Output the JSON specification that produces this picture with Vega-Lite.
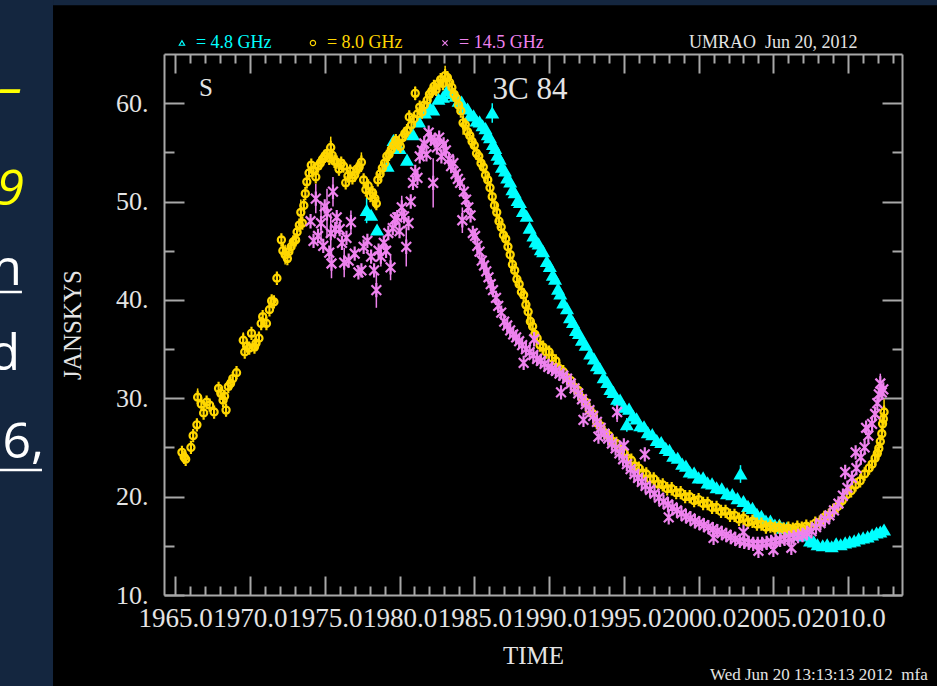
{
  "$schema": "https://vega.github.io/schema/vega-lite/v6.json",
  "width": 738,
  "height": 541,
  "autosize": {"type": "none"},
  "padding": {"left": 164, "top": 54, "right": 35, "bottom": 91},
  "background": "#000000",
  "config": {
    "view": {"stroke": null},
    "font": "Liberation Serif",
    "axis": {
      "grid": false,
      "domainColor": "#a8a8a8",
      "domainWidth": 2,
      "tickColor": "#a8a8a8",
      "tickWidth": 2,
      "labelColor": "#e4e4e4",
      "labelFont": "Liberation Serif",
      "labelFontSize": 26,
      "titleColor": "#e4e4e4",
      "titleFont": "Liberation Serif",
      "titleFontSize": 25,
      "titleFontWeight": "normal",
      "labelOverlap": false,
      "labelBound": false,
      "labelFlush": false
    }
  },
  "resolve": {"axis": {"x": "independent", "y": "independent"}, "scale": {"shape": "independent"}},
  "datasets": {
    "bg": [
      {"year": 1940, "year2": 1956.83, "jy": -10, "jy2": 80},
      {"year": 1956.83, "year2": 2030, "jy": 69.96, "jy2": 80}
    ],
    "fragY": [
      {"year": 1954.75, "jy": 59.92, "txt": "–"},
      {"year": 1954.89, "jy": 49.66, "txt": "9"}
    ],
    "fragW": [
      {"year": 1954.75, "jy": 41.52, "txt": "n"},
      {"year": 1954.62, "jy": 32.88, "txt": "d"},
      {"year": 1956.23, "jy": 23.93, "txt": "6,"}
    ],
    "uline": [
      {"year": 1952, "year2": 1954.75, "jy": 40.81},
      {"year": 1952, "year2": 1956.09, "jy": 22.71}
    ],
    "hdr": [
      {"band": "4.8", "year": 1965.45, "jy": 66.12, "lab": "= 4.8 GHz"},
      {"band": "8.0", "year": 1974.21, "jy": 66.12, "lab": "= 8.0 GHz"},
      {"band": "14.5", "year": 1983.04, "jy": 66.12, "lab": "= 14.5 GHz"}
    ],
    "umrao": [{"year": 1999.36, "jy": 66.12, "txt": "UMRAO\u00a0 Jun 20, 2012"}],
    "srcS": [{"year": 1967.06, "jy": 61.55, "txt": "S"}],
    "srcName": [{"year": 1988.73, "jy": 61.34, "txt": "3C 84"}],
    "stamp": [{"year": 2000.76, "jy": 1.87, "txt": "Wed Jun 20 13:13:13 2012\u00a0 mfa"}],
    "obs": [
      {"band":"4.8","year":1977.8,"jy":49.1,"e":1.3},
      {"band":"4.8","year":1978.1,"jy":48.6},
      {"band":"4.8","year":1978.5,"jy":47.1},
      {"band":"4.8","year":1979.2,"jy":53.6},
      {"band":"4.8","year":1979.6,"jy":56.2},
      {"band":"4.8","year":1980.0,"jy":55.4},
      {"band":"4.8","year":1980.5,"jy":54.2},
      {"band":"4.8","year":1980.9,"jy":56.8},
      {"band":"4.8","year":1981.3,"jy":58.1},
      {"band":"4.8","year":1981.7,"jy":59.0},
      {"band":"4.8","year":1982.0,"jy":59.6},
      {"band":"4.8","year":1982.25,"jy":59.3},
      {"band":"4.8","year":1982.6,"jy":60.4},
      {"band":"4.8","year":1982.9,"jy":60.6},
      {"band":"4.8","year":1983.2,"jy":61.3},
      {"band":"4.8","year":1983.5,"jy":61.0},
      {"band":"4.8","year":1983.75,"jy":60.7},
      {"band":"4.8","year":1983.95,"jy":60.2},
      {"band":"4.8","year":1984.15,"jy":60.1},
      {"band":"4.8","year":1984.35,"jy":59.5},
      {"band":"4.8","year":1984.55,"jy":59.4},
      {"band":"4.8","year":1984.75,"jy":58.8},
      {"band":"4.8","year":1984.95,"jy":58.7},
      {"band":"4.8","year":1985.15,"jy":58.2},
      {"band":"4.8","year":1985.35,"jy":58.1},
      {"band":"4.8","year":1985.55,"jy":57.7},
      {"band":"4.8","year":1985.75,"jy":57.4},
      {"band":"4.8","year":1985.9,"jy":56.8},
      {"band":"4.8","year":1986.05,"jy":56.5},
      {"band":"4.8","year":1986.2,"jy":59.0,"e":1.0},
      {"band":"4.8","year":1986.25,"jy":55.8},
      {"band":"4.8","year":1986.4,"jy":55.4},
      {"band":"4.8","year":1986.55,"jy":54.7},
      {"band":"4.8","year":1986.7,"jy":54.3},
      {"band":"4.8","year":1986.85,"jy":53.5},
      {"band":"4.8","year":1987.05,"jy":53.1},
      {"band":"4.8","year":1987.2,"jy":52.4},
      {"band":"4.8","year":1987.4,"jy":52.0},
      {"band":"4.8","year":1987.55,"jy":51.2},
      {"band":"4.8","year":1987.7,"jy":50.9},
      {"band":"4.8","year":1987.9,"jy":50.1},
      {"band":"4.8","year":1988.05,"jy":49.9},
      {"band":"4.8","year":1988.25,"jy":49.0},
      {"band":"4.8","year":1988.5,"jy":48.5},
      {"band":"4.8","year":1988.7,"jy":47.3},
      {"band":"4.8","year":1988.95,"jy":46.5},
      {"band":"4.8","year":1989.1,"jy":45.9},
      {"band":"4.8","year":1989.3,"jy":45.7},
      {"band":"4.8","year":1989.45,"jy":45.1},
      {"band":"4.8","year":1989.6,"jy":44.9},
      {"band":"4.8","year":1989.85,"jy":43.9},
      {"band":"4.8","year":1990.05,"jy":43.4},
      {"band":"4.8","year":1990.25,"jy":42.5},
      {"band":"4.8","year":1990.4,"jy":42.1},
      {"band":"4.8","year":1990.6,"jy":41.1},
      {"band":"4.8","year":1990.75,"jy":40.6},
      {"band":"4.8","year":1990.95,"jy":39.7},
      {"band":"4.8","year":1991.2,"jy":39.1},
      {"band":"4.8","year":1991.4,"jy":38.2},
      {"band":"4.8","year":1991.6,"jy":37.7},
      {"band":"4.8","year":1991.8,"jy":36.9},
      {"band":"4.8","year":1992.0,"jy":36.6},
      {"band":"4.8","year":1992.2,"jy":35.9},
      {"band":"4.8","year":1992.45,"jy":35.4},
      {"band":"4.8","year":1992.75,"jy":34.5},
      {"band":"4.8","year":1993.0,"jy":34.0},
      {"band":"4.8","year":1993.2,"jy":33.3},
      {"band":"4.8","year":1993.4,"jy":33.0},
      {"band":"4.8","year":1993.65,"jy":32.1},
      {"band":"4.8","year":1993.9,"jy":31.6},
      {"band":"4.8","year":1994.1,"jy":30.9},
      {"band":"4.8","year":1994.3,"jy":30.6},
      {"band":"4.8","year":1994.55,"jy":29.9},
      {"band":"4.8","year":1994.75,"jy":29.8},
      {"band":"4.8","year":1995.0,"jy":29.1},
      {"band":"4.8","year":1995.2,"jy":27.3,"e":0.7},
      {"band":"4.8","year":1995.35,"jy":28.9},
      {"band":"4.8","year":1995.6,"jy":28.2},
      {"band":"4.8","year":1995.85,"jy":27.9},
      {"band":"4.8","year":1996.1,"jy":27.2},
      {"band":"4.8","year":1996.35,"jy":27.1},
      {"band":"4.8","year":1996.6,"jy":26.5},
      {"band":"4.8","year":1996.9,"jy":26.3},
      {"band":"4.8","year":1997.2,"jy":25.7},
      {"band":"4.8","year":1997.5,"jy":25.5},
      {"band":"4.8","year":1997.8,"jy":24.9},
      {"band":"4.8","year":1998.05,"jy":24.7},
      {"band":"4.8","year":1998.3,"jy":24.1},
      {"band":"4.8","year":1998.6,"jy":23.9},
      {"band":"4.8","year":1998.9,"jy":23.3},
      {"band":"4.8","year":1999.15,"jy":23.1},
      {"band":"4.8","year":1999.4,"jy":22.5},
      {"band":"4.8","year":1999.7,"jy":22.4},
      {"band":"4.8","year":2000.0,"jy":21.9},
      {"band":"4.8","year":2000.3,"jy":21.9},
      {"band":"4.8","year":2000.6,"jy":21.4},
      {"band":"4.8","year":2000.9,"jy":21.3},
      {"band":"4.8","year":2001.2,"jy":20.9},
      {"band":"4.8","year":2001.55,"jy":20.8},
      {"band":"4.8","year":2001.9,"jy":20.3},
      {"band":"4.8","year":2002.25,"jy":20.2},
      {"band":"4.8","year":2002.6,"jy":19.8},
      {"band":"4.8","year":2002.8,"jy":22.3,"e":0.9},
      {"band":"4.8","year":2003.0,"jy":19.5},
      {"band":"4.8","year":2003.3,"jy":19.0},
      {"band":"4.8","year":2003.6,"jy":18.8},
      {"band":"4.8","year":2003.9,"jy":18.2},
      {"band":"4.8","year":2004.2,"jy":18.0},
      {"band":"4.8","year":2004.5,"jy":17.5},
      {"band":"4.8","year":2004.8,"jy":17.5},
      {"band":"4.8","year":2005.1,"jy":17.1},
      {"band":"4.8","year":2005.4,"jy":17.1},
      {"band":"4.8","year":2005.65,"jy":16.8},
      {"band":"4.8","year":2005.9,"jy":16.8},
      {"band":"4.8","year":2006.2,"jy":16.5},
      {"band":"4.8","year":2006.5,"jy":16.5},
      {"band":"4.8","year":2006.8,"jy":16.1},
      {"band":"4.8","year":2007.1,"jy":16.0},
      {"band":"4.8","year":2007.45,"jy":15.5},
      {"band":"4.8","year":2007.7,"jy":15.4},
      {"band":"4.8","year":2007.95,"jy":15.1},
      {"band":"4.8","year":2008.3,"jy":15.0},
      {"band":"4.8","year":2008.6,"jy":15.1},
      {"band":"4.8","year":2008.9,"jy":14.9},
      {"band":"4.8","year":2009.2,"jy":15.2},
      {"band":"4.8","year":2009.5,"jy":15.1},
      {"band":"4.8","year":2009.8,"jy":15.3},
      {"band":"4.8","year":2010.1,"jy":15.4},
      {"band":"4.8","year":2010.4,"jy":15.5},
      {"band":"4.8","year":2010.7,"jy":15.7},
      {"band":"4.8","year":2011.0,"jy":15.8},
      {"band":"4.8","year":2011.3,"jy":15.9},
      {"band":"4.8","year":2011.6,"jy":16.1},
      {"band":"4.8","year":2011.9,"jy":16.3},
      {"band":"4.8","year":2012.15,"jy":16.4},
      {"band":"4.8","year":2012.4,"jy":16.6},
      {"band":"8.0","year":1965.45,"jy":24.5},
      {"band":"8.0","year":1965.6,"jy":24.0},
      {"band":"8.0","year":1965.7,"jy":23.8},
      {"band":"8.0","year":1966.05,"jy":25.0},
      {"band":"8.0","year":1966.2,"jy":26.2},
      {"band":"8.0","year":1966.45,"jy":27.3},
      {"band":"8.0","year":1966.5,"jy":30.1,"e":0.9},
      {"band":"8.0","year":1966.75,"jy":29.4},
      {"band":"8.0","year":1966.9,"jy":28.5},
      {"band":"8.0","year":1967.1,"jy":29.6},
      {"band":"8.0","year":1967.3,"jy":29.3},
      {"band":"8.0","year":1967.6,"jy":28.6},
      {"band":"8.0","year":1967.9,"jy":31.0},
      {"band":"8.0","year":1968.05,"jy":30.5},
      {"band":"8.0","year":1968.2,"jy":29.8},
      {"band":"8.0","year":1968.3,"jy":30.2},
      {"band":"8.0","year":1968.4,"jy":28.8},
      {"band":"8.0","year":1968.55,"jy":31.2},
      {"band":"8.0","year":1968.7,"jy":31.5},
      {"band":"8.0","year":1968.85,"jy":32.0},
      {"band":"8.0","year":1969.1,"jy":32.6},
      {"band":"8.0","year":1969.55,"jy":35.9,"e":0.8},
      {"band":"8.0","year":1969.65,"jy":34.7},
      {"band":"8.0","year":1969.8,"jy":35.3},
      {"band":"8.0","year":1969.95,"jy":35.1},
      {"band":"8.0","year":1970.1,"jy":36.6},
      {"band":"8.0","year":1970.3,"jy":35.2},
      {"band":"8.0","year":1970.4,"jy":35.6},
      {"band":"8.0","year":1970.6,"jy":36.1},
      {"band":"8.0","year":1970.75,"jy":37.6},
      {"band":"8.0","year":1970.85,"jy":38.3},
      {"band":"8.0","year":1971.1,"jy":37.6},
      {"band":"8.0","year":1971.3,"jy":39.0},
      {"band":"8.0","year":1971.45,"jy":39.9},
      {"band":"8.0","year":1971.6,"jy":39.8},
      {"band":"8.0","year":1971.8,"jy":42.2},
      {"band":"8.0","year":1972.1,"jy":46.1},
      {"band":"8.0","year":1972.2,"jy":45.0},
      {"band":"8.0","year":1972.35,"jy":44.6,"e":1.0},
      {"band":"8.0","year":1972.5,"jy":44.2},
      {"band":"8.0","year":1972.6,"jy":44.9},
      {"band":"8.0","year":1972.75,"jy":45.4},
      {"band":"8.0","year":1972.9,"jy":45.9},
      {"band":"8.0","year":1973.05,"jy":46.1},
      {"band":"8.0","year":1973.15,"jy":46.9},
      {"band":"8.0","year":1973.3,"jy":47.6},
      {"band":"8.0","year":1973.4,"jy":48.9,"e":1.3},
      {"band":"8.0","year":1973.5,"jy":47.8},
      {"band":"8.0","year":1973.6,"jy":49.6},
      {"band":"8.0","year":1973.7,"jy":50.8},
      {"band":"8.0","year":1973.8,"jy":52.0},
      {"band":"8.0","year":1973.95,"jy":52.9},
      {"band":"8.0","year":1974.1,"jy":53.7},
      {"band":"8.0","year":1974.25,"jy":53.2},
      {"band":"8.0","year":1974.4,"jy":52.5},
      {"band":"8.0","year":1974.55,"jy":53.6},
      {"band":"8.0","year":1974.7,"jy":53.9},
      {"band":"8.0","year":1974.85,"jy":54.3},
      {"band":"8.0","year":1975.0,"jy":54.6},
      {"band":"8.0","year":1975.15,"jy":54.9},
      {"band":"8.0","year":1975.3,"jy":54.4},
      {"band":"8.0","year":1975.4,"jy":55.5,"e":1.1},
      {"band":"8.0","year":1975.5,"jy":54.7},
      {"band":"8.0","year":1975.65,"jy":54.1},
      {"band":"8.0","year":1975.8,"jy":54.0},
      {"band":"8.0","year":1975.95,"jy":53.3},
      {"band":"8.0","year":1976.1,"jy":53.9},
      {"band":"8.0","year":1976.25,"jy":53.6},
      {"band":"8.0","year":1976.4,"jy":51.9},
      {"band":"8.0","year":1976.55,"jy":52.6},
      {"band":"8.0","year":1976.7,"jy":53.1},
      {"band":"8.0","year":1976.85,"jy":52.4},
      {"band":"8.0","year":1977.0,"jy":52.7},
      {"band":"8.0","year":1977.15,"jy":53.3},
      {"band":"8.0","year":1977.3,"jy":53.5},
      {"band":"8.0","year":1977.45,"jy":54.0,"e":1.0},
      {"band":"8.0","year":1977.6,"jy":52.2},
      {"band":"8.0","year":1977.75,"jy":51.2},
      {"band":"8.0","year":1977.9,"jy":51.6},
      {"band":"8.0","year":1978.05,"jy":50.6},
      {"band":"8.0","year":1978.2,"jy":50.9},
      {"band":"8.0","year":1978.35,"jy":50.3,"e":1.0},
      {"band":"8.0","year":1978.45,"jy":49.8},
      {"band":"8.0","year":1978.55,"jy":52.2},
      {"band":"8.0","year":1978.7,"jy":52.8},
      {"band":"8.0","year":1978.85,"jy":53.4},
      {"band":"8.0","year":1979.0,"jy":53.9},
      {"band":"8.0","year":1979.15,"jy":54.6},
      {"band":"8.0","year":1979.3,"jy":54.8},
      {"band":"8.0","year":1979.45,"jy":55.3},
      {"band":"8.0","year":1979.6,"jy":55.7},
      {"band":"8.0","year":1979.75,"jy":56.2},
      {"band":"8.0","year":1979.9,"jy":55.9},
      {"band":"8.0","year":1980.05,"jy":55.6},
      {"band":"8.0","year":1980.2,"jy":56.5},
      {"band":"8.0","year":1980.35,"jy":56.9},
      {"band":"8.0","year":1980.5,"jy":57.2},
      {"band":"8.0","year":1980.65,"jy":58.6},
      {"band":"8.0","year":1980.8,"jy":57.8},
      {"band":"8.0","year":1980.95,"jy":58.4},
      {"band":"8.0","year":1981.05,"jy":61.0,"e":0.7},
      {"band":"8.0","year":1981.2,"jy":58.9},
      {"band":"8.0","year":1981.35,"jy":59.6},
      {"band":"8.0","year":1981.5,"jy":59.1},
      {"band":"8.0","year":1981.65,"jy":59.8},
      {"band":"8.0","year":1981.85,"jy":60.3},
      {"band":"8.0","year":1982.0,"jy":60.9},
      {"band":"8.0","year":1982.15,"jy":61.2},
      {"band":"8.0","year":1982.3,"jy":61.7},
      {"band":"8.0","year":1982.45,"jy":61.4},
      {"band":"8.0","year":1982.6,"jy":62.0},
      {"band":"8.0","year":1982.75,"jy":62.4},
      {"band":"8.0","year":1982.9,"jy":62.0},
      {"band":"8.0","year":1983.05,"jy":62.8,"e":1.0},
      {"band":"8.0","year":1983.2,"jy":62.6},
      {"band":"8.0","year":1983.35,"jy":62.1},
      {"band":"8.0","year":1983.5,"jy":61.6},
      {"band":"8.0","year":1983.65,"jy":60.9},
      {"band":"8.0","year":1983.8,"jy":60.5},
      {"band":"8.0","year":1983.95,"jy":59.8},
      {"band":"8.0","year":1984.1,"jy":59.2},
      {"band":"8.0","year":1984.25,"jy":58.0,"e":1.2},
      {"band":"8.0","year":1984.4,"jy":57.8},
      {"band":"8.0","year":1984.55,"jy":57.1},
      {"band":"8.0","year":1984.7,"jy":56.7},
      {"band":"8.0","year":1984.85,"jy":56.1},
      {"band":"8.0","year":1985.0,"jy":55.7},
      {"band":"8.0","year":1985.15,"jy":54.9},
      {"band":"8.0","year":1985.3,"jy":54.6},
      {"band":"8.0","year":1985.45,"jy":53.9},
      {"band":"8.0","year":1985.6,"jy":53.5},
      {"band":"8.0","year":1985.75,"jy":52.7},
      {"band":"8.0","year":1985.9,"jy":52.2},
      {"band":"8.0","year":1986.05,"jy":51.4},
      {"band":"8.0","year":1986.2,"jy":50.5},
      {"band":"8.0","year":1986.35,"jy":49.6},
      {"band":"8.0","year":1986.5,"jy":48.9,"e":1.0},
      {"band":"8.0","year":1986.65,"jy":48.0},
      {"band":"8.0","year":1986.8,"jy":47.4},
      {"band":"8.0","year":1986.95,"jy":46.6},
      {"band":"8.0","year":1987.1,"jy":46.2},
      {"band":"8.0","year":1987.25,"jy":45.4},
      {"band":"8.0","year":1987.4,"jy":44.6},
      {"band":"8.0","year":1987.55,"jy":43.6},
      {"band":"8.0","year":1987.7,"jy":43.0},
      {"band":"8.0","year":1987.85,"jy":42.1},
      {"band":"8.0","year":1988.0,"jy":41.6},
      {"band":"8.0","year":1988.15,"jy":40.8},
      {"band":"8.0","year":1988.3,"jy":40.5},
      {"band":"8.0","year":1988.45,"jy":39.5},
      {"band":"8.0","year":1988.6,"jy":38.8,"e":1.2},
      {"band":"8.0","year":1988.75,"jy":37.8},
      {"band":"8.0","year":1988.9,"jy":37.3},
      {"band":"8.0","year":1989.05,"jy":36.5},
      {"band":"8.0","year":1989.2,"jy":36.1},
      {"band":"8.0","year":1989.4,"jy":35.4},
      {"band":"8.0","year":1989.6,"jy":35.2},
      {"band":"8.0","year":1989.8,"jy":34.7},
      {"band":"8.0","year":1990.0,"jy":34.7},
      {"band":"8.0","year":1990.2,"jy":34.1},
      {"band":"8.0","year":1990.45,"jy":33.8},
      {"band":"8.0","year":1990.7,"jy":33.0},
      {"band":"8.0","year":1990.95,"jy":32.7},
      {"band":"8.0","year":1991.2,"jy":32.1},
      {"band":"8.0","year":1991.45,"jy":31.8},
      {"band":"8.0","year":1991.7,"jy":31.1},
      {"band":"8.0","year":1991.95,"jy":30.8},
      {"band":"8.0","year":1992.2,"jy":30.0},
      {"band":"8.0","year":1992.45,"jy":29.6},
      {"band":"8.0","year":1992.7,"jy":28.8},
      {"band":"8.0","year":1992.95,"jy":28.4},
      {"band":"8.0","year":1993.2,"jy":27.5},
      {"band":"8.0","year":1993.45,"jy":27.2},
      {"band":"8.0","year":1993.7,"jy":26.5},
      {"band":"8.0","year":1994.0,"jy":26.2},
      {"band":"8.0","year":1994.25,"jy":25.6},
      {"band":"8.0","year":1994.5,"jy":25.4},
      {"band":"8.0","year":1994.75,"jy":24.8},
      {"band":"8.0","year":1995.0,"jy":24.5},
      {"band":"8.0","year":1995.25,"jy":23.9},
      {"band":"8.0","year":1995.5,"jy":23.7},
      {"band":"8.0","year":1995.75,"jy":23.1},
      {"band":"8.0","year":1996.0,"jy":22.9},
      {"band":"8.0","year":1996.25,"jy":22.4},
      {"band":"8.0","year":1996.5,"jy":22.3},
      {"band":"8.0","year":1996.75,"jy":21.8},
      {"band":"8.0","year":1997.0,"jy":21.8},
      {"band":"8.0","year":1997.3,"jy":21.3},
      {"band":"8.0","year":1997.6,"jy":21.2},
      {"band":"8.0","year":1997.9,"jy":20.8},
      {"band":"8.0","year":1998.2,"jy":20.8},
      {"band":"8.0","year":1998.5,"jy":20.4},
      {"band":"8.0","year":1998.8,"jy":20.4},
      {"band":"8.0","year":1999.1,"jy":20.0},
      {"band":"8.0","year":1999.4,"jy":20.0},
      {"band":"8.0","year":1999.7,"jy":19.6},
      {"band":"8.0","year":2000.0,"jy":19.7},
      {"band":"8.0","year":2000.3,"jy":19.3},
      {"band":"8.0","year":2000.6,"jy":19.3},
      {"band":"8.0","year":2000.9,"jy":18.9},
      {"band":"8.0","year":2001.2,"jy":18.9},
      {"band":"8.0","year":2001.5,"jy":18.5},
      {"band":"8.0","year":2001.8,"jy":18.5},
      {"band":"8.0","year":2002.1,"jy":18.1},
      {"band":"8.0","year":2002.4,"jy":18.1},
      {"band":"8.0","year":2002.7,"jy":17.7},
      {"band":"8.0","year":2003.0,"jy":17.8},
      {"band":"8.0","year":2003.3,"jy":17.4},
      {"band":"8.0","year":2003.6,"jy":17.5},
      {"band":"8.0","year":2003.9,"jy":17.2},
      {"band":"8.0","year":2004.2,"jy":17.2},
      {"band":"8.0","year":2004.5,"jy":16.9},
      {"band":"8.0","year":2004.8,"jy":17.0},
      {"band":"8.0","year":2005.1,"jy":16.8},
      {"band":"8.0","year":2005.4,"jy":16.9},
      {"band":"8.0","year":2005.7,"jy":16.7},
      {"band":"8.0","year":2006.0,"jy":16.8},
      {"band":"8.0","year":2006.3,"jy":16.7},
      {"band":"8.0","year":2006.6,"jy":16.9},
      {"band":"8.0","year":2006.9,"jy":16.8},
      {"band":"8.0","year":2007.2,"jy":17.0},
      {"band":"8.0","year":2007.5,"jy":16.9},
      {"band":"8.0","year":2007.8,"jy":17.3},
      {"band":"8.0","year":2008.1,"jy":17.4},
      {"band":"8.0","year":2008.4,"jy":17.9},
      {"band":"8.0","year":2008.7,"jy":18.1},
      {"band":"8.0","year":2009.0,"jy":18.6},
      {"band":"8.0","year":2009.3,"jy":19.0},
      {"band":"8.0","year":2009.6,"jy":19.6},
      {"band":"8.0","year":2009.9,"jy":20.2},
      {"band":"8.0","year":2010.2,"jy":20.6},
      {"band":"8.0","year":2010.5,"jy":21.2},
      {"band":"8.0","year":2010.8,"jy":21.6},
      {"band":"8.0","year":2011.1,"jy":22.3},
      {"band":"8.0","year":2011.4,"jy":22.9},
      {"band":"8.0","year":2011.6,"jy":23.3},
      {"band":"8.0","year":2011.8,"jy":23.9},
      {"band":"8.0","year":2011.95,"jy":24.4},
      {"band":"8.0","year":2012.05,"jy":24.9},
      {"band":"8.0","year":2012.15,"jy":25.6},
      {"band":"8.0","year":2012.25,"jy":26.4},
      {"band":"8.0","year":2012.3,"jy":27.4,"e":1.0},
      {"band":"8.0","year":2012.35,"jy":27.9},
      {"band":"8.0","year":2012.4,"jy":28.6,"e":1.3},
      {"band":"14.5","year":1974.05,"jy":48.0},
      {"band":"14.5","year":1974.25,"jy":46.0},
      {"band":"14.5","year":1974.4,"jy":50.3,"e":1.5},
      {"band":"14.5","year":1974.55,"jy":46.5},
      {"band":"14.5","year":1974.75,"jy":47.8,"e":2.0},
      {"band":"14.5","year":1974.9,"jy":45.5},
      {"band":"14.5","year":1975.0,"jy":49.5},
      {"band":"14.5","year":1975.15,"jy":48.8,"e":2.5},
      {"band":"14.5","year":1975.3,"jy":44.8},
      {"band":"14.5","year":1975.4,"jy":46.8,"e":2.0},
      {"band":"14.5","year":1975.45,"jy":43.7,"e":1.5},
      {"band":"14.5","year":1975.55,"jy":51.0,"e":1.5},
      {"band":"14.5","year":1975.7,"jy":47.2},
      {"band":"14.5","year":1975.8,"jy":48.4},
      {"band":"14.5","year":1976.0,"jy":47.2},
      {"band":"14.5","year":1976.15,"jy":45.8},
      {"band":"14.5","year":1976.3,"jy":43.8,"e":1.5},
      {"band":"14.5","year":1976.45,"jy":46.3},
      {"band":"14.5","year":1976.6,"jy":44.0},
      {"band":"14.5","year":1976.75,"jy":47.9,"e":1.2},
      {"band":"14.5","year":1977.0,"jy":44.7},
      {"band":"14.5","year":1977.25,"jy":42.8},
      {"band":"14.5","year":1977.45,"jy":43.0},
      {"band":"14.5","year":1977.6,"jy":45.4},
      {"band":"14.5","year":1977.85,"jy":46.0},
      {"band":"14.5","year":1978.1,"jy":44.4},
      {"band":"14.5","year":1978.3,"jy":43.0},
      {"band":"14.5","year":1978.45,"jy":41.0,"e":1.8},
      {"band":"14.5","year":1978.6,"jy":45.0},
      {"band":"14.5","year":1978.75,"jy":44.4,"e":1.0},
      {"band":"14.5","year":1978.95,"jy":45.8},
      {"band":"14.5","year":1979.1,"jy":45.0},
      {"band":"14.5","year":1979.25,"jy":46.8},
      {"band":"14.5","year":1979.4,"jy":43.3,"e":1.3},
      {"band":"14.5","year":1979.55,"jy":47.3},
      {"band":"14.5","year":1979.7,"jy":48.2},
      {"band":"14.5","year":1979.85,"jy":48.4},
      {"band":"14.5","year":1980.0,"jy":47.0},
      {"band":"14.5","year":1980.15,"jy":49.4,"e":1.2},
      {"band":"14.5","year":1980.3,"jy":48.5},
      {"band":"14.5","year":1980.45,"jy":45.4,"e":2.0},
      {"band":"14.5","year":1980.6,"jy":47.8},
      {"band":"14.5","year":1980.75,"jy":50.0},
      {"band":"14.5","year":1980.9,"jy":51.9},
      {"band":"14.5","year":1981.05,"jy":53.0},
      {"band":"14.5","year":1981.2,"jy":52.4},
      {"band":"14.5","year":1981.35,"jy":54.6},
      {"band":"14.5","year":1981.5,"jy":55.2},
      {"band":"14.5","year":1981.65,"jy":55.9},
      {"band":"14.5","year":1981.8,"jy":54.8},
      {"band":"14.5","year":1981.95,"jy":57.0},
      {"band":"14.5","year":1982.1,"jy":56.4},
      {"band":"14.5","year":1982.25,"jy":51.9,"e":2.5},
      {"band":"14.5","year":1982.35,"jy":56.2},
      {"band":"14.5","year":1982.5,"jy":55.5},
      {"band":"14.5","year":1982.65,"jy":56.5},
      {"band":"14.5","year":1982.8,"jy":54.6},
      {"band":"14.5","year":1982.95,"jy":55.8},
      {"band":"14.5","year":1983.1,"jy":55.2},
      {"band":"14.5","year":1983.3,"jy":54.3},
      {"band":"14.5","year":1983.45,"jy":53.6},
      {"band":"14.5","year":1983.6,"jy":53.9},
      {"band":"14.5","year":1983.75,"jy":52.8},
      {"band":"14.5","year":1983.9,"jy":52.3},
      {"band":"14.5","year":1984.05,"jy":51.9},
      {"band":"14.5","year":1984.2,"jy":48.1,"e":1.3},
      {"band":"14.5","year":1984.3,"jy":51.0},
      {"band":"14.5","year":1984.45,"jy":50.2},
      {"band":"14.5","year":1984.6,"jy":49.4},
      {"band":"14.5","year":1984.75,"jy":48.6},
      {"band":"14.5","year":1984.9,"jy":46.8},
      {"band":"14.5","year":1985.05,"jy":46.5},
      {"band":"14.5","year":1985.2,"jy":45.5},
      {"band":"14.5","year":1985.35,"jy":44.9},
      {"band":"14.5","year":1985.5,"jy":44.0},
      {"band":"14.5","year":1985.65,"jy":43.5},
      {"band":"14.5","year":1985.8,"jy":42.9},
      {"band":"14.5","year":1985.95,"jy":42.3},
      {"band":"14.5","year":1986.1,"jy":41.6},
      {"band":"14.5","year":1986.25,"jy":41.0},
      {"band":"14.5","year":1986.45,"jy":40.2},
      {"band":"14.5","year":1986.6,"jy":39.4},
      {"band":"14.5","year":1986.8,"jy":38.7},
      {"band":"14.5","year":1987.0,"jy":37.8},
      {"band":"14.5","year":1987.2,"jy":37.4},
      {"band":"14.5","year":1987.4,"jy":36.9},
      {"band":"14.5","year":1987.6,"jy":36.5},
      {"band":"14.5","year":1987.8,"jy":36.2},
      {"band":"14.5","year":1988.0,"jy":35.8},
      {"band":"14.5","year":1988.2,"jy":35.4},
      {"band":"14.5","year":1988.3,"jy":33.6},
      {"band":"14.5","year":1988.45,"jy":35.0},
      {"band":"14.5","year":1988.7,"jy":34.7},
      {"band":"14.5","year":1988.95,"jy":34.4},
      {"band":"14.5","year":1989.0,"jy":36.0},
      {"band":"14.5","year":1989.2,"jy":34.0},
      {"band":"14.5","year":1989.45,"jy":33.8},
      {"band":"14.5","year":1989.7,"jy":33.5},
      {"band":"14.5","year":1989.95,"jy":33.2},
      {"band":"14.5","year":1990.2,"jy":33.0},
      {"band":"14.5","year":1990.45,"jy":32.8},
      {"band":"14.5","year":1990.7,"jy":32.5},
      {"band":"14.5","year":1990.8,"jy":30.6},
      {"band":"14.5","year":1990.95,"jy":32.3},
      {"band":"14.5","year":1991.2,"jy":32.0},
      {"band":"14.5","year":1991.45,"jy":31.5},
      {"band":"14.5","year":1991.7,"jy":31.0},
      {"band":"14.5","year":1991.95,"jy":30.5},
      {"band":"14.5","year":1992.2,"jy":29.9},
      {"band":"14.5","year":1992.3,"jy":27.8},
      {"band":"14.5","year":1992.45,"jy":29.4},
      {"band":"14.5","year":1992.7,"jy":28.8},
      {"band":"14.5","year":1992.95,"jy":28.2},
      {"band":"14.5","year":1993.2,"jy":27.6},
      {"band":"14.5","year":1993.3,"jy":26.1},
      {"band":"14.5","year":1993.45,"jy":27.0},
      {"band":"14.5","year":1993.7,"jy":26.4},
      {"band":"14.5","year":1993.95,"jy":25.9},
      {"band":"14.5","year":1994.2,"jy":25.4},
      {"band":"14.5","year":1994.45,"jy":24.9},
      {"band":"14.5","year":1994.55,"jy":28.6,"e":1.0},
      {"band":"14.5","year":1994.7,"jy":24.4},
      {"band":"14.5","year":1994.95,"jy":23.8},
      {"band":"14.5","year":1995.0,"jy":25.2},
      {"band":"14.5","year":1995.2,"jy":23.3},
      {"band":"14.5","year":1995.45,"jy":22.8},
      {"band":"14.5","year":1995.7,"jy":22.3},
      {"band":"14.5","year":1995.95,"jy":21.9},
      {"band":"14.5","year":1996.2,"jy":21.5},
      {"band":"14.5","year":1996.4,"jy":24.3},
      {"band":"14.5","year":1996.45,"jy":21.1},
      {"band":"14.5","year":1996.75,"jy":20.7},
      {"band":"14.5","year":1997.05,"jy":20.3},
      {"band":"14.5","year":1997.35,"jy":19.9},
      {"band":"14.5","year":1997.65,"jy":19.5},
      {"band":"14.5","year":1997.95,"jy":19.2},
      {"band":"14.5","year":1998.0,"jy":17.9},
      {"band":"14.5","year":1998.25,"jy":18.9},
      {"band":"14.5","year":1998.55,"jy":18.6},
      {"band":"14.5","year":1998.85,"jy":18.3},
      {"band":"14.5","year":1999.15,"jy":18.0},
      {"band":"14.5","year":1999.45,"jy":17.8},
      {"band":"14.5","year":1999.75,"jy":17.5},
      {"band":"14.5","year":2000.05,"jy":17.3},
      {"band":"14.5","year":2000.35,"jy":17.1},
      {"band":"14.5","year":2000.65,"jy":16.9},
      {"band":"14.5","year":2000.95,"jy":16.7},
      {"band":"14.5","year":2001.0,"jy":15.8},
      {"band":"14.5","year":2001.25,"jy":16.5},
      {"band":"14.5","year":2001.55,"jy":16.3},
      {"band":"14.5","year":2001.85,"jy":16.1},
      {"band":"14.5","year":2002.15,"jy":15.9},
      {"band":"14.5","year":2002.45,"jy":15.7},
      {"band":"14.5","year":2002.75,"jy":15.5},
      {"band":"14.5","year":2003.0,"jy":16.4},
      {"band":"14.5","year":2003.05,"jy":15.4},
      {"band":"14.5","year":2003.35,"jy":15.3},
      {"band":"14.5","year":2003.65,"jy":15.2},
      {"band":"14.5","year":2003.95,"jy":15.2},
      {"band":"14.5","year":2004.0,"jy":14.5},
      {"band":"14.5","year":2004.25,"jy":15.2},
      {"band":"14.5","year":2004.55,"jy":15.3},
      {"band":"14.5","year":2004.85,"jy":15.4},
      {"band":"14.5","year":2005.0,"jy":14.6},
      {"band":"14.5","year":2005.15,"jy":15.5},
      {"band":"14.5","year":2005.45,"jy":15.6},
      {"band":"14.5","year":2005.75,"jy":15.7},
      {"band":"14.5","year":2006.05,"jy":15.8},
      {"band":"14.5","year":2006.2,"jy":14.8},
      {"band":"14.5","year":2006.35,"jy":15.9},
      {"band":"14.5","year":2006.65,"jy":16.0},
      {"band":"14.5","year":2006.95,"jy":16.1},
      {"band":"14.5","year":2007.25,"jy":16.3},
      {"band":"14.5","year":2007.55,"jy":16.5},
      {"band":"14.5","year":2007.85,"jy":16.9},
      {"band":"14.5","year":2008.15,"jy":17.3},
      {"band":"14.5","year":2008.45,"jy":17.7},
      {"band":"14.5","year":2008.75,"jy":18.1},
      {"band":"14.5","year":2009.05,"jy":18.6},
      {"band":"14.5","year":2009.35,"jy":19.3},
      {"band":"14.5","year":2009.65,"jy":20.1},
      {"band":"14.5","year":2009.8,"jy":22.5},
      {"band":"14.5","year":2009.95,"jy":20.9},
      {"band":"14.5","year":2010.25,"jy":21.9},
      {"band":"14.5","year":2010.5,"jy":24.5},
      {"band":"14.5","year":2010.55,"jy":22.9},
      {"band":"14.5","year":2010.85,"jy":24.0},
      {"band":"14.5","year":2011.1,"jy":25.0},
      {"band":"14.5","year":2011.2,"jy":27.0},
      {"band":"14.5","year":2011.35,"jy":26.2},
      {"band":"14.5","year":2011.6,"jy":27.4},
      {"band":"14.5","year":2011.8,"jy":28.4},
      {"band":"14.5","year":2011.95,"jy":29.5},
      {"band":"14.5","year":2012.05,"jy":30.4},
      {"band":"14.5","year":2012.15,"jy":31.5,"e":1.0},
      {"band":"14.5","year":2012.25,"jy":30.6},
      {"band":"14.5","year":2012.35,"jy":30.9}
    ]
  },
  "layer": [
    {
      "data": {"name": "bg"},
      "mark": {"type": "rect", "color": "#14263f"},
      "encoding": {
        "x": {
          "field": "year", "type": "quantitative",
          "scale": {"domain": [1964.25, 2013.6], "nice": false, "zero": false},
          "axis": {
            "orient": "top", "title": null, "labels": false,
            "values": [1965,1966,1967,1968,1969,1970,1971,1972,1973,1974,1975,1976,1977,1978,1979,1980,1981,1982,1983,1984,1985,1986,1987,1988,1989,1990,1991,1992,1993,1994,1995,1996,1997,1998,1999,2000,2001,2002,2003,2004,2005,2006,2007,2008,2009,2010,2011,2012,2013],
            "tickSize": {"condition": {"test": "datum.value % 5 === 0", "value": -19}, "value": -9}
          }
        },
        "x2": {"field": "year2"},
        "y": {
          "field": "jy", "type": "quantitative",
          "scale": {"domain": [10, 65], "nice": false, "zero": false},
          "axis": {
            "orient": "right", "title": null, "labels": false,
            "values": [10,15,20,25,30,35,40,45,50,55,60],
            "tickSize": {"condition": {"test": "datum.value % 10 === 0", "value": -20}, "value": -10}
          }
        },
        "y2": {"field": "jy2"}
      }
    },
    {
      "data": {"name": "fragY"},
      "mark": {"type": "text", "font": "Open Sans", "fontSize": 50, "fontStyle": "italic", "color": "#ffff00", "align": "right", "baseline": "alphabetic"},
      "encoding": {
        "x": {"field": "year", "type": "quantitative", "axis": null},
        "y": {"field": "jy", "type": "quantitative", "axis": null},
        "text": {"field": "txt"}
      }
    },
    {
      "data": {"name": "fragW"},
      "mark": {"type": "text", "font": "Open Sans", "fontSize": 50, "color": "#ffffff", "align": "right", "baseline": "alphabetic"},
      "encoding": {
        "x": {"field": "year", "type": "quantitative", "axis": null},
        "y": {"field": "jy", "type": "quantitative", "axis": null},
        "text": {"field": "txt"}
      }
    },
    {
      "data": {"name": "uline"},
      "mark": {"type": "rule", "color": "#ffffff", "strokeWidth": 2.5},
      "encoding": {
        "x": {"field": "year", "type": "quantitative", "axis": null},
        "x2": {"field": "year2"},
        "y": {"field": "jy", "type": "quantitative", "axis": null}
      }
    },
    {
      "data": {"name": "obs"},
      "transform": [{"filter": "isValid(datum.e)"}],
      "mark": {"type": "errorbar", "ticks": false, "thickness": 1.5},
      "encoding": {
        "x": {"field": "year", "type": "quantitative", "axis": null},
        "y": {"field": "jy", "type": "quantitative", "axis": null},
        "yError": {"field": "e"},
        "color": {"field": "band", "type": "nominal", "legend": null,
          "scale": {"domain": ["4.8", "8.0", "14.5"], "range": ["#00ffff", "#ffd700", "#ee82ee"]}}
      }
    },
    {
      "data": {"name": "obs"},
      "mark": {"type": "point", "filled": false, "size": 105, "strokeWidth": 2.2, "opacity": 1},
      "encoding": {
        "x": {
          "field": "year", "type": "quantitative",
          "scale": {"domain": [1964.25, 2013.6], "nice": false, "zero": false},
          "axis": {
            "orient": "bottom", "title": "TIME",
            "values": [1965,1966,1967,1968,1969,1970,1971,1972,1973,1974,1975,1976,1977,1978,1979,1980,1981,1982,1983,1984,1985,1986,1987,1988,1989,1990,1991,1992,1993,1994,1995,1996,1997,1998,1999,2000,2001,2002,2003,2004,2005,2006,2007,2008,2009,2010,2011,2012,2013],
            "tickSize": {"condition": {"test": "datum.value % 5 === 0", "value": -19}, "value": -9},
            "labelExpr": "datum.value % 5 === 0 ? format(datum.value, '.1f') : ''",
            "labelFontSize": 27,
            "labelPadding": 29,
            "titlePadding": 2
          }
        },
        "y": {
          "field": "jy", "type": "quantitative",
          "scale": {"domain": [10, 65], "nice": false, "zero": false},
          "axis": {
            "orient": "left", "title": "JANSKYS",
            "values": [10,15,20,25,30,35,40,45,50,55,60],
            "tickSize": {"condition": {"test": "datum.value % 10 === 0", "value": -20}, "value": -10},
            "labelExpr": "datum.value % 10 === 0 ? datum.value + '.' : ''",
            "labelPadding": 36,
            "titlePadding": 30
          }
        },
        "color": {"field": "band", "type": "nominal", "legend": null,
          "scale": {"domain": ["4.8", "8.0", "14.5"], "range": ["#00ffff", "#ffd700", "#ee82ee"]}},
        "fill": {"field": "band", "type": "nominal", "legend": null,
          "scale": {"domain": ["4.8", "8.0", "14.5"], "range": ["#00ffff", "transparent", "transparent"]}},
        "shape": {"field": "band", "type": "nominal", "legend": null,
          "scale": {"domain": ["4.8", "8.0", "14.5"], "range": ["triangle-up", "M0.7,0A0.7,0.7 0 1,1 -0.7,0A0.7,0.7 0 1,1 0.7,0M0,-1.3L0,1.3", "M-0.95,-0.95L0.95,0.95M-0.95,0.95L0.95,-0.95M0,-1.4L0,1.4"]}}
      }
    },
    {
      "data": {"name": "hdr"},
      "mark": {"type": "point", "filled": false, "size": 28, "strokeWidth": 1.2, "opacity": 1},
      "encoding": {
        "x": {"field": "year", "type": "quantitative", "axis": null},
        "y": {"field": "jy", "type": "quantitative", "axis": null},
        "color": {"field": "band", "type": "nominal", "legend": null},
        "shape": {"field": "band", "type": "nominal", "legend": null,
          "scale": {"domain": ["4.8", "8.0", "14.5"], "range": ["triangle-up", "circle", "M-1,-1L1,1M-1,1L1,-1"]}}
      }
    },
    {
      "data": {"name": "hdr"},
      "mark": {"type": "text", "fontSize": 18, "align": "left", "baseline": "middle", "dx": 14},
      "encoding": {
        "x": {"field": "year", "type": "quantitative", "axis": null},
        "y": {"field": "jy", "type": "quantitative", "axis": null},
        "text": {"field": "lab"},
        "color": {"field": "band", "type": "nominal", "legend": null}
      }
    },
    {
      "data": {"name": "umrao"},
      "mark": {"type": "text", "fontSize": 18, "align": "left", "baseline": "middle", "color": "#e4e4e4"},
      "encoding": {
        "x": {"field": "year", "type": "quantitative", "axis": null},
        "y": {"field": "jy", "type": "quantitative", "axis": null},
        "text": {"field": "txt"}
      }
    },
    {
      "data": {"name": "srcS"},
      "mark": {"type": "text", "fontSize": 25, "align": "center", "baseline": "middle", "color": "#e4e4e4"},
      "encoding": {
        "x": {"field": "year", "type": "quantitative", "axis": null},
        "y": {"field": "jy", "type": "quantitative", "axis": null},
        "text": {"field": "txt"}
      }
    },
    {
      "data": {"name": "srcName"},
      "mark": {"type": "text", "fontSize": 31, "align": "center", "baseline": "middle", "color": "#e4e4e4"},
      "encoding": {
        "x": {"field": "year", "type": "quantitative", "axis": null},
        "y": {"field": "jy", "type": "quantitative", "axis": null},
        "text": {"field": "txt"}
      }
    },
    {
      "data": {"name": "stamp"},
      "mark": {"type": "text", "fontSize": 17, "align": "left", "baseline": "middle", "color": "#e4e4e4"},
      "encoding": {
        "x": {"field": "year", "type": "quantitative", "axis": null},
        "y": {"field": "jy", "type": "quantitative", "axis": null},
        "text": {"field": "txt"}
      }
    }
  ]
}
